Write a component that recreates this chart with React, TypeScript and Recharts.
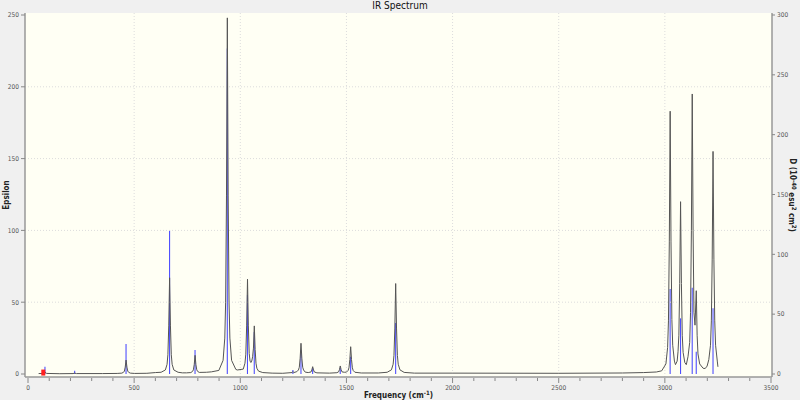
import React from 'react';
import {
  ComposedChart,
  Line,
  Bar,
  XAxis,
  YAxis,
  CartesianGrid,
  ReferenceLine,
  ReferenceDot,
} from 'recharts';

// ---- Data ----
// Stick spectrum: frequency (cm-1) and D (10^-40 esu^2 cm^2), right axis
const stickFreq = [80, 220, 462, 667, 787, 939, 1034, 1066, 1248, 1286, 1341, 1471, 1520, 1732, 3025, 3074, 3129, 3148, 3227];
const stickD = [6, 2.8, 25, 120, 20, 272, 66, 35, 3.3, 20, 4.8, 4.8, 14.5, 42.6, 71, 46.5, 72, 18.6, 55];

// Broadened curve (frequency, epsilon), left axis
const curveLow: [number, number][] = [
  [50, 0.3], [72, 0.4], [80, 1.2], [88, 0.4], [150, 0.2], [212, 0.3], [220, 0.6], [228, 0.3],
  [350, 0.3], [420, 0.4], [442, 0.6], [450, 1.2], [454, 2], [458, 4.8], [462, 9.7], [466, 4.8],
  [470, 2], [474, 1.2], [482, 0.6], [502, 0.4], [560, 0.5], [600, 1.0], [627, 1.2], [647, 2.8],
  [655, 6.7], [659, 13.4], [663, 33.5], [667, 67], [671, 33.5], [675, 13.4], [679, 6.7], [687, 2.8],
  [707, 1.2], [727, 0.8], [747, 0.8], [767, 1.0], [775, 1.8], [779, 2.9], [783, 6.5], [787, 13],
  [791, 6.5], [795, 2.9], [799, 1.8], [807, 1.1], [840, 1.2], [864, 1.5], [899, 2.5], [919, 9.5],
  [927, 25], [931, 50], [935, 124], [939, 248], [943, 124], [947, 50], [951, 25], [959, 9.5],
  [979, 3.2], [986, 2.8],
];
const curveMid: [number, number][] = [
  [1014, 3.4], [1022, 7.5], [1026, 13.8], [1030, 33.5], [1034, 66], [1038, 33.5], [1042, 14.3],
  [1046, 9], [1050, 8], [1054, 9], [1058, 12], [1062, 18], [1066, 33.5], [1070, 17], [1074, 7.5],
  [1078, 4], [1086, 2], [1106, 1.0], [1150, 0.6], [1200, 0.5], [1244, 1.0], [1248, 1.7], [1252, 1.0],
  [1266, 1.6], [1274, 2.8], [1278, 4.7], [1282, 11], [1286, 21.4], [1290, 11], [1294, 4.7], [1298, 2.8],
  [1306, 1.3], [1320, 1.0], [1333, 1.4], [1337, 2.8], [1341, 5.1], [1345, 2.8], [1349, 1.4], [1361, 0.8],
  [1420, 0.6], [1455, 0.9], [1463, 1.5], [1467, 3], [1471, 5.6], [1475, 3], [1479, 1.5], [1490, 1.2],
  [1500, 1.3], [1508, 2.5], [1512, 4.3], [1516, 10], [1520, 19], [1524, 10], [1528, 4.3], [1532, 2.4],
  [1540, 1.2], [1570, 0.7], [1650, 0.7], [1692, 1.2], [1712, 2.9], [1720, 6.8], [1724, 13], [1728, 32],
  [1732, 63], [1736, 32], [1740, 13], [1744, 6.8], [1752, 2.9], [1772, 1.1], [1820, 0.6],
];
const curveHigh: [number, number][] = [
  [2000, 0.6], [2500, 0.5], [2800, 0.7], [2900, 1.0], [2960, 1.4], [2985, 2.2], [3005, 7],
  [3013, 18.5], [3017, 37], [3021, 92], [3025, 183], [3029, 92], [3033, 38], [3037, 20], [3045, 9],
  [3050, 6.5], [3058, 9], [3062, 15.5], [3066, 27], [3070, 63], [3074, 120], [3078, 63], [3082, 27],
  [3086, 15], [3094, 8], [3101, 6.5], [3109, 12], [3117, 22], [3121, 43], [3125, 100], [3129, 195],
  [3133, 100], [3137, 43], [3142, 34], [3148, 58], [3152, 27], [3156, 14], [3164, 7], [3180, 4],
  [3190, 3.8], [3199, 5.5], [3207, 10], [3215, 20], [3219, 37], [3223, 80], [3227, 155], [3231, 80],
  [3235, 37], [3239, 20], [3247, 9], [3250, 5],
];

// Axis ticks
const xMajorTicks = [0, 500, 1000, 1500, 2000, 2500, 3000, 3500];
const xMinorStep = 100;
const leftTicks = [0, 50, 100, 150, 200, 250];
const rightTicks = [0, 50, 100, 150, 200, 250, 300];
const vGrid = [500, 1000, 1500, 2000, 2500, 3000];
const hGrid = [50, 100, 150, 200];
const markerFreq = 72;
const markerEps = 1;

// ---- Build the table ----
type Row = { f: number; eps?: number; d?: number };
const rowMap = new Map<number, Row>();
[...curveLow, ...curveMid, ...curveHigh].forEach(([f, e]) => {
  rowMap.set(f, { f, eps: e });
});
stickFreq.forEach((f, i) => {
  const r = rowMap.get(f) || { f };
  r.d = stickD[i];
  rowMap.set(f, r);
});
const data: Row[] = Array.from(rowMap.values()).sort((a, b) => a.f - b.f);

const xTicks: number[] = [];
for (let v = 0; v <= 3500; v += xMinorStep) xTicks.push(v);

const FONT = "'Liberation Sans Narrow', 'DejaVu Sans Condensed', 'Liberation Sans', sans-serif";
const TICK_COLOR = '#555';

const XTick = (props: any) => {
  const { x, y, payload } = props;
  const major = xMajorTicks.includes(payload.value);
  return (
    <g>
      <line x1={x} x2={x} y1={y + 1} y2={y + (major ? 6 : 4)} stroke="#888" strokeWidth={1} />
      {major && (
        <text x={x} y={y + 13} textAnchor="middle" fontSize={6.5} fill={TICK_COLOR} fontFamily={FONT}>
          {payload.value}
        </text>
      )}
    </g>
  );
};

const XLabel = (props: any) => {
  const vb = props.viewBox || {};
  const cx = vb.x + vb.width / 2;
  return (
    <text x={cx} y={398} textAnchor="middle" fontSize={8} fontWeight="bold" fill="#222" fontFamily={FONT}>
      Frequency (cm<tspan dy={-3} fontSize={6}>-1</tspan><tspan dy={3}>)</tspan>
    </text>
  );
};

const LeftLabel = (props: any) => {
  const vb = props.viewBox || {};
  const cx = 6;
  const cy = vb.y + vb.height / 2;
  return (
    <text x={cx} y={cy} transform={`rotate(-90 ${cx} ${cy})`} textAnchor="middle" dominantBaseline="central"
      fontSize={8} fontWeight="bold" fill="#222" fontFamily={FONT}>
      Epsilon
    </text>
  );
};

const RightLabel = (props: any) => {
  const vb = props.viewBox || {};
  const cx = vb.x + vb.width - 8;
  const cy = vb.y + vb.height / 2;
  return (
    <text x={cx} y={cy} transform={`rotate(90 ${cx} ${cy})`} textAnchor="middle" dominantBaseline="central"
      fontSize={8} fontWeight="bold" fill="#222" fontFamily={FONT}>
      D (10<tspan dy={-3} fontSize={6}>-40</tspan>
      <tspan dy={3}> esu</tspan>
      <tspan dy={-3} fontSize={6}>2</tspan>
      <tspan dy={3}> cm</tspan>
      <tspan dy={-3} fontSize={6}>2</tspan>
      <tspan dy={3}>)</tspan>
    </text>
  );
};

const Marker = (props: any) => {
  const { cx, cy } = props;
  return <rect x={cx - 2} y={cy - 3} width={4} height={6} fill="#ff2020" />;
};

const Stick = (props: any) => {
  const { x, y, width, height } = props;
  if (!height || height <= 0) return null;
  const cx = x + width / 2;
  return <line x1={cx} x2={cx} y1={y} y2={y + height} stroke="#3030ff" strokeOpacity={0.85} strokeWidth={1.1} />;
};

export default function App() {
  return (
    <div style={{ position: 'absolute', left: 0, top: 0, width: 800, height: 400, background: '#f0f0f0' }}>
      <div
        style={{
          position: 'absolute', left: 0, top: 0, width: 800, textAlign: 'center',
          fontFamily: FONT, fontSize: 10, lineHeight: '12px', color: '#111',
        }}
      >
        IR Spectrum
      </div>
      <ComposedChart
        width={800}
        height={400}
        data={data}
        margin={{ top: 13, right: 0, bottom: 0, left: 0 }}
        barGap={0}
        barCategoryGap={0}
      >
        <CartesianGrid yAxisId="left" fill="#fffff4" horizontal={false} vertical={false} />
        <XAxis
          dataKey="f"
          type="number"
          domain={[0, 3500]}
          ticks={xTicks}
          interval={0}
          tickSize={0}
          tickMargin={0}
          tickLine={false}
          tick={<XTick />}
          height={23}
          padding={{ left: 3, right: 1 }}
          axisLine={{ stroke: '#999', strokeWidth: 1.5 }}
          allowDataOverflow
          label={<XLabel />}
        />
        <XAxis
          xAxisId="top"
          orientation="top"
          dataKey="f"
          type="number"
          domain={[0, 3500]}
          height={0}
          tick={false}
          tickLine={false}
          padding={{ left: 3, right: 1 }}
          axisLine={{ stroke: '#c8c8c8', strokeWidth: 1 }}
        />
        <YAxis
          yAxisId="left"
          type="number"
          domain={[0, 250]}
          ticks={leftTicks}
          interval={0}
          width={25}
          tickSize={4}
          tickMargin={2}
          padding={{ top: 2, bottom: 3 }}
          tick={{ fontSize: 6.5, fill: TICK_COLOR, fontFamily: FONT }}
          tickLine={{ stroke: '#888' }}
          axisLine={{ stroke: '#999', strokeWidth: 1.5 }}
          label={<LeftLabel />}
        />
        <YAxis
          yAxisId="right"
          orientation="right"
          type="number"
          domain={[0, 300]}
          ticks={rightTicks}
          interval={0}
          width={28}
          tickSize={3}
          tickMargin={2}
          padding={{ top: 2, bottom: 3 }}
          tick={{ fontSize: 6.5, fill: TICK_COLOR, fontFamily: FONT }}
          tickLine={{ stroke: '#888' }}
          axisLine={{ stroke: '#999', strokeWidth: 1.5 }}
          label={<RightLabel />}
        />
        {vGrid.map((v) => (
          <ReferenceLine key={'v' + v} x={v} yAxisId="left" stroke="#dcdcdc" strokeDasharray="1 2" />
        ))}
        {hGrid.map((v) => (
          <ReferenceLine key={'h' + v} y={v} yAxisId="left" stroke="#dcdcdc" strokeDasharray="1 2" />
        ))}
        <Line
          yAxisId="left"
          dataKey="eps"
          type="linear"
          stroke="#555"
          strokeWidth={1}
          dot={false}
          connectNulls
          isAnimationActive={false}
        />
        <Bar
          yAxisId="right"
          dataKey="d"
          barSize={1}
          fill="#3030ff"
          shape={<Stick />}
          isAnimationActive={false}
        />
        <ReferenceDot yAxisId="left" x={markerFreq} y={markerEps} shape={<Marker />} />
      </ComposedChart>
    </div>
  );
}
